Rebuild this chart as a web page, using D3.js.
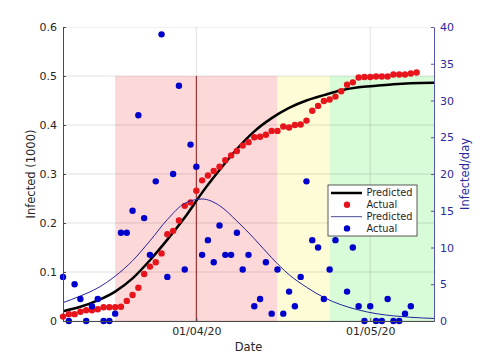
<!DOCTYPE html>
<html><head><meta charset="utf-8">
<script src="https://cdn.jsdelivr.net/npm/d3@7"></script>
<style>body{margin:0;background:#fff}svg{display:block;font-family:"DejaVu Sans",sans-serif}</style>
</head><body><svg id="c" width="480" height="360"></svg>
<script>
// ---- data ----
const startDate = "2020-03-09";           // first observation
const endDate = "2020-05-12";             // axis end
const actualCumulative = [ // thousands, daily from 2020-03-09
 0.009,0.014,0.014,0.019,0.022,0.022,0.024,0.028,0.028,0.028,0.029,0.041,0.053,0.068,0.096,0.111,0.120,0.138,0.177,0.184,0.205,0.235,0.242,
 0.266,0.287,0.297,0.306,0.315,0.328,0.338,0.347,0.358,0.365,0.375,0.376,0.380,0.388,0.388,0.397,0.395,0.400,0.401,0.409,0.429,0.439,0.449,
 0.452,0.458,0.469,0.482,0.487,0.497,0.498,0.498,0.499,0.499,0.499,0.503,0.503,0.503,0.505,0.507];
const actualDaily = [ // infected/day, daily from 2020-03-09
 6,0,5,3,0,2,3,0,0,1,12,12,15,28,14,9,19,39,6,20,32,7,24,
 21,9,11,8,13,9,9,12,7,9,2,3,8,1,7,1,4,2,6,19,11,10,3,7,11,13,4,10,2,0,2,0,0,3,0,0,1,2];
const predDays = [-23,-20,-17,-14,-11,-8,-5,-2,1,4,7,10,13,16,19,22,25,28,31,34,37,41]; // days from 01/04/20
const predCumulative = [0.020,0.029,0.042,0.060,0.087,0.124,0.166,0.211,0.262,0.308,0.351,0.387,0.414,0.435,0.450,0.461,0.471,0.477,0.480,0.483,0.485,0.486];
const predDaily = [2.5,3.4,4.5,6.1,8.2,10.9,13.8,16.0,16.6,15.7,13.6,11.2,8.6,6.3,4.6,3.2,2.2,1.5,1.0,0.7,0.5,0.35];
const phaseStarts = ["2020-03-18","2020-04-15","2020-04-24"];
const phaseEnds = ["2020-04-15","2020-04-24","2020-05-12"];
const phaseColors = ["#fdd8d8","#fdfcd7","#d8fbd8"];
const markerDate = "2020-04-01";
const xTicks = ["2020-04-01","2020-05-01"];
const leftTicks = [0,0.1,0.2,0.3,0.4,0.5,0.6];
const rightTicks = [0,5,10,15,20,25,30,35,40];

// ---- layout ----
const W=480,H=360,m={l:63,r:46,t:27,b:39};
const svg=d3.select("#c");
const parse=d3.utcParse("%Y-%m-%d");
const t0=parse(startDate);
const x=d3.scaleUtc().domain([t0,parse(endDate)]).range([m.l,W-m.r]);
const yL=d3.scaleLinear().domain([0,0.6]).range([H-m.b,m.t]);
const yR=d3.scaleLinear().domain([0,40]).range([H-m.b,m.t]);
const dayDate=i=>d3.utcDay.offset(t0,i);
const ref=parse(markerDate);
const relDate=d=>d3.utcDay.offset(ref,d);
const gray="#262626", blueAx="#2a2a9c";

const plot=svg.append("g");
plot.append("defs").append("clipPath").attr("id","clip").append("rect")
 .attr("x",m.l).attr("y",m.t).attr("width",W-m.l-m.r).attr("height",H-m.t-m.b);
const pg=plot.append("g").attr("clip-path","url(#clip)");
const dg=plot.append("g");

// phases
pg.selectAll("rect.ph").data(phaseStarts).join("rect").attr("class","ph")
 .attr("x",d=>x(parse(d))).attr("width",(d,i)=>x(parse(phaseEnds[i]))-x(parse(d)))
 .attr("y",yL(0.5)).attr("height",yL(0)-yL(0.5)).attr("fill",(d,i)=>phaseColors[i]);

// grid
pg.selectAll("line.gh").data(leftTicks).join("line").attr("class","gh")
 .attr("x1",m.l).attr("x2",W-m.r).attr("y1",d=>yL(d)).attr("y2",d=>yL(d))
 .attr("stroke","rgba(0,0,0,0.12)").attr("stroke-width",1);
pg.selectAll("line.gv").data(xTicks).join("line").attr("class","gv")
 .attr("x1",d=>x(parse(d))).attr("x2",d=>x(parse(d))).attr("y1",m.t).attr("y2",H-m.b)
 .attr("stroke","rgba(0,0,0,0.12)").attr("stroke-width",1);

// marker line
pg.append("line").attr("x1",x(ref)).attr("x2",x(ref)).attr("y1",yL(0)).attr("y2",yL(0.5))
 .attr("stroke","#931c1c").attr("stroke-width",1);

// predicted cumulative
const lineL=d3.line().x((d,i)=>x(relDate(predDays[i]))).y(d=>yL(d)).curve(d3.curveMonotoneX);
pg.append("path").attr("d",lineL(predCumulative)).attr("fill","none").attr("stroke","#000").attr("stroke-width",2.5);
// actual cumulative
dg.selectAll("circle.r").data(actualCumulative).join("circle").attr("class","r")
 .attr("cx",(d,i)=>x(dayDate(i))).attr("cy",d=>yL(d)).attr("r",3.2).attr("fill","#e8141c");
// predicted daily
const lineR=d3.line().x((d,i)=>x(relDate(predDays[i]))).y(d=>yR(d)).curve(d3.curveMonotoneX);
dg.append("path").attr("clip-path","url(#clip)").attr("d",lineR(predDaily)).attr("fill","none").attr("stroke","#23239a").attr("stroke-width",1);
// actual daily
dg.selectAll("circle.b").data(actualDaily).join("circle").attr("class","b")
 .attr("cx",(d,i)=>x(dayDate(i))).attr("cy",d=>yR(d)).attr("r",3.2).attr("fill","#0000cc");

// axes
const ax=svg.append("g").attr("font-size",11);
const gl=ax.append("g").attr("transform",`translate(${m.l},0)`)
 .call(d3.axisLeft(yL).tickValues(leftTicks).tickSizeInner(-3).tickSizeOuter(0).tickPadding(6).tickFormat(d=>d===0?"0":d.toFixed(1)));
const gr=ax.append("g").attr("transform",`translate(${W-m.r},0)`)
 .call(d3.axisRight(yR).tickValues(rightTicks).tickSizeInner(-3).tickSizeOuter(0).tickPadding(6));
const gb=ax.append("g").attr("transform",`translate(0,${H-m.b})`)
 .call(d3.axisBottom(x).tickValues(xTicks.map(parse)).tickSizeInner(-3).tickSizeOuter(0).tickPadding(6).tickFormat(d3.utcFormat("%d/%m/%y")));
[gl,gb].forEach(g=>{g.selectAll("path,line").attr("stroke","#4a4a4a");g.selectAll("text").attr("fill",gray).attr("font-family","DejaVu Sans").attr("font-size",11);});
gr.selectAll("path,line").attr("stroke","#5555aa");
gr.selectAll("text").attr("fill",blueAx).attr("font-family","DejaVu Sans").attr("font-size",11);

// axis labels
svg.append("text").attr("transform",`translate(35,${(m.t+H-m.b)/2}) rotate(-90)`).attr("text-anchor","middle")
 .attr("font-size",11.5).attr("fill",gray).text("Infected (1000)");
svg.append("text").attr("transform",`translate(469,${(m.t+H-m.b)/2}) rotate(-90)`).attr("text-anchor","middle")
 .attr("font-size",11.5).attr("fill",blueAx).text("Infected/day");
svg.append("text").attr("x",(m.l+W-m.r)/2).attr("y",351).attr("text-anchor","middle")
 .attr("font-size",11.5).attr("fill",gray).text("Date");

// legend
const lg=svg.append("g").attr("transform","translate(328,185)");
lg.append("rect").attr("width",89).attr("height",51).attr("fill","#fff").attr("stroke","#333").attr("stroke-width",0.8);
const legItems=[{t:"Predicted",k:"line",c:"#000",w:2.5},{t:"Actual",k:"dot",c:"#e8141c"},{t:"Predicted",k:"line",c:"#6a6aaa",w:1.2},{t:"Actual",k:"dot",c:"#0000cc"}];
legItems.forEach((d,i)=>{
 const yy=8+i*11.8;
 if(d.k==="line") lg.append("line").attr("x1",3).attr("x2",34).attr("y1",yy).attr("y2",yy).attr("stroke",d.c).attr("stroke-width",d.w);
 else lg.append("circle").attr("cx",19).attr("cy",yy).attr("r",3.2).attr("fill",d.c);
 lg.append("text").attr("x",38.5).attr("y",yy).attr("dy","0.35em").attr("font-size",9.8).attr("fill",gray).text(d.t);
});
</script></body></html>
